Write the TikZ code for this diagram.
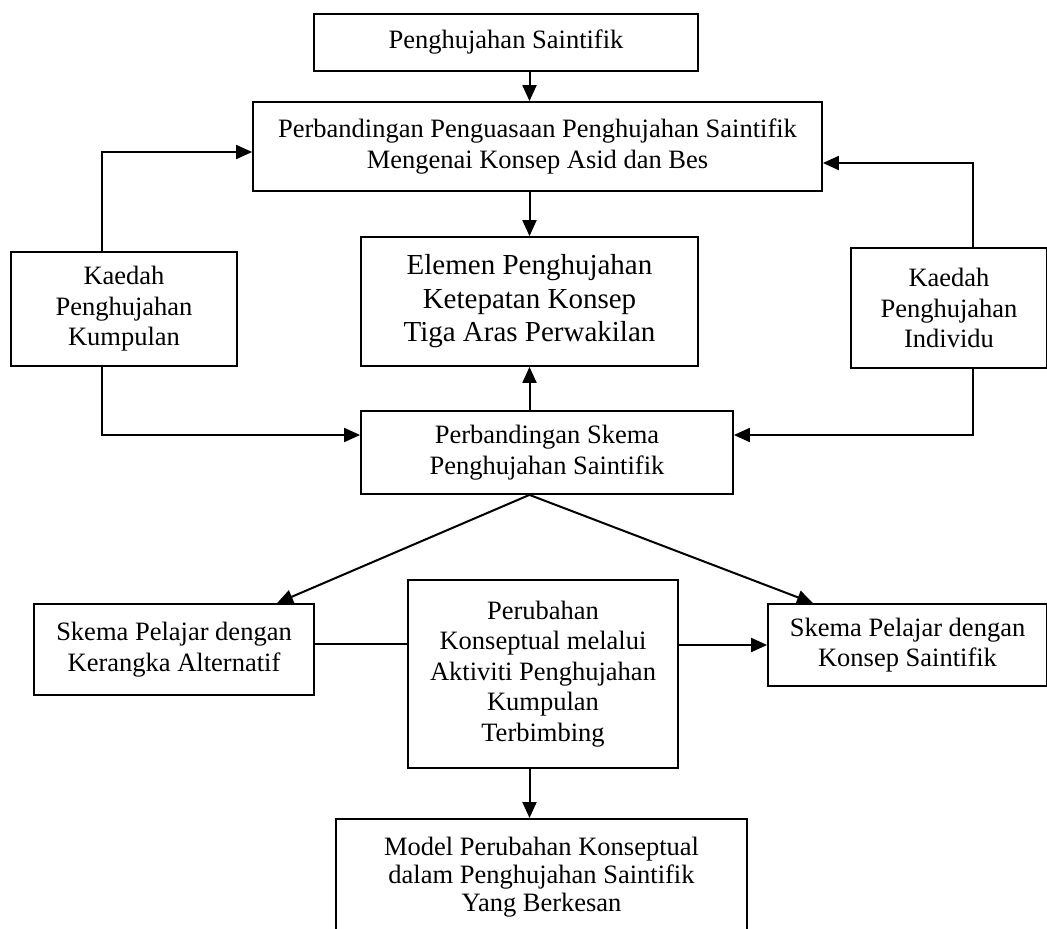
\documentclass[tikz,border=0pt]{standalone}
\usepackage{fontspec}
\setmainfont{Liberation Serif}
\usepackage{tikz}
\usetikzlibrary{arrows.meta,positioning}

\begin{document}
\begin{tikzpicture}[x=1pt,y=-1pt,
  box/.style={draw,line width=1.8pt,inner sep=0pt,align=center,
    font=\fontsize{26.5}{30.5}\selectfont},
  conn/.style={line width=2pt},
  arr/.style={conn,-{Triangle[length=16pt,width=14pt]}}]
\useasboundingbox (0,0) rectangle (1047,929);
% nodes
 \node[box,minimum width=384pt,minimum height=57pt] (top) at (506,42.5) {Penghujahan Saintifik};
 \node[box,minimum width=569pt,minimum height=89pt] (cmp) at (537.5,146.5)
   {Perbandingan Penguasaan Penghujahan Saintifik\\Mengenai Konsep Asid dan Bes};
 \node[box,minimum width=337pt,minimum height=129pt,font=\fontsize{29}{33.5}\selectfont] (elem) at (529.5,301.5)
   {Elemen Penghujahan\\Ketepatan Konsep\\Tiga Aras Perwakilan};
 \node[box,minimum width=226pt,minimum height=114pt] (kump) at (124,309) {Kaedah\\Penghujahan\\Kumpulan};
 \node[box,minimum width=196pt,minimum height=120pt] (indiv) at (949,308) {Kaedah\\Penghujahan\\Individu};
 \node[box,minimum width=372pt,minimum height=83pt] (skema) at (547,452.5) {Perbandingan Skema\\Penghujahan Saintifik};
 \node[box,minimum width=280pt,minimum height=91pt] (alt) at (174,649.5) {Skema Pelajar dengan\\Kerangka Alternatif};
 \node[box,minimum width=279pt,minimum height=82pt] (konsep) at (907.5,645) {Skema Pelajar dengan\\Konsep Saintifik};
 \node[box,minimum width=270pt,minimum height=188pt] (ubah) at (543,674)
   {Perubahan\\Konseptual melalui\\Aktiviti Penghujahan\\Kumpulan\\Terbimbing};
 \node[box,minimum width=411pt,minimum height=116pt,anchor=north,font=\fontsize{26.5}{28}\selectfont] (model) at (541.5,818)
   {Model Perubahan Konseptual\\dalam Penghujahan Saintifik\\Yang Berkesan};
% edges
 \draw[arr] (top.south -| elem) -- (cmp.north -| elem);
 \draw[arr] (cmp.south -| elem) -- (elem.north);
 \draw[arr] (skema.north -| elem) -- (elem.south);
 \draw[arr] ([xshift=-22pt]kump.north) |- ([yshift=-5.5pt]cmp.west);
 \draw[arr] ([xshift=24pt]indiv.north) |- ([yshift=-16.5pt]cmp.east);
 \draw[arr] ([xshift=-22pt]kump.south) |- ([yshift=17.5pt]skema.west);
 \draw[arr] ([xshift=24pt]indiv.south) |- ([yshift=17.5pt]skema.east);
 \draw[arr] (skema.south -| elem) -- ([xshift=103pt]alt.north);
 \draw[arr] (skema.south -| elem) -- ([xshift=-94.5pt]konsep.north);
 \draw[conn] ([yshift=5.5pt]alt.east) coordinate (a1) -- (a1 -| ubah.west);
 \draw[arr] (konsep.west -| ubah.east) -- (konsep.west);
 \draw[arr] (ubah.south -| elem) -- (model.north -| elem);
\end{tikzpicture}
\end{document}
